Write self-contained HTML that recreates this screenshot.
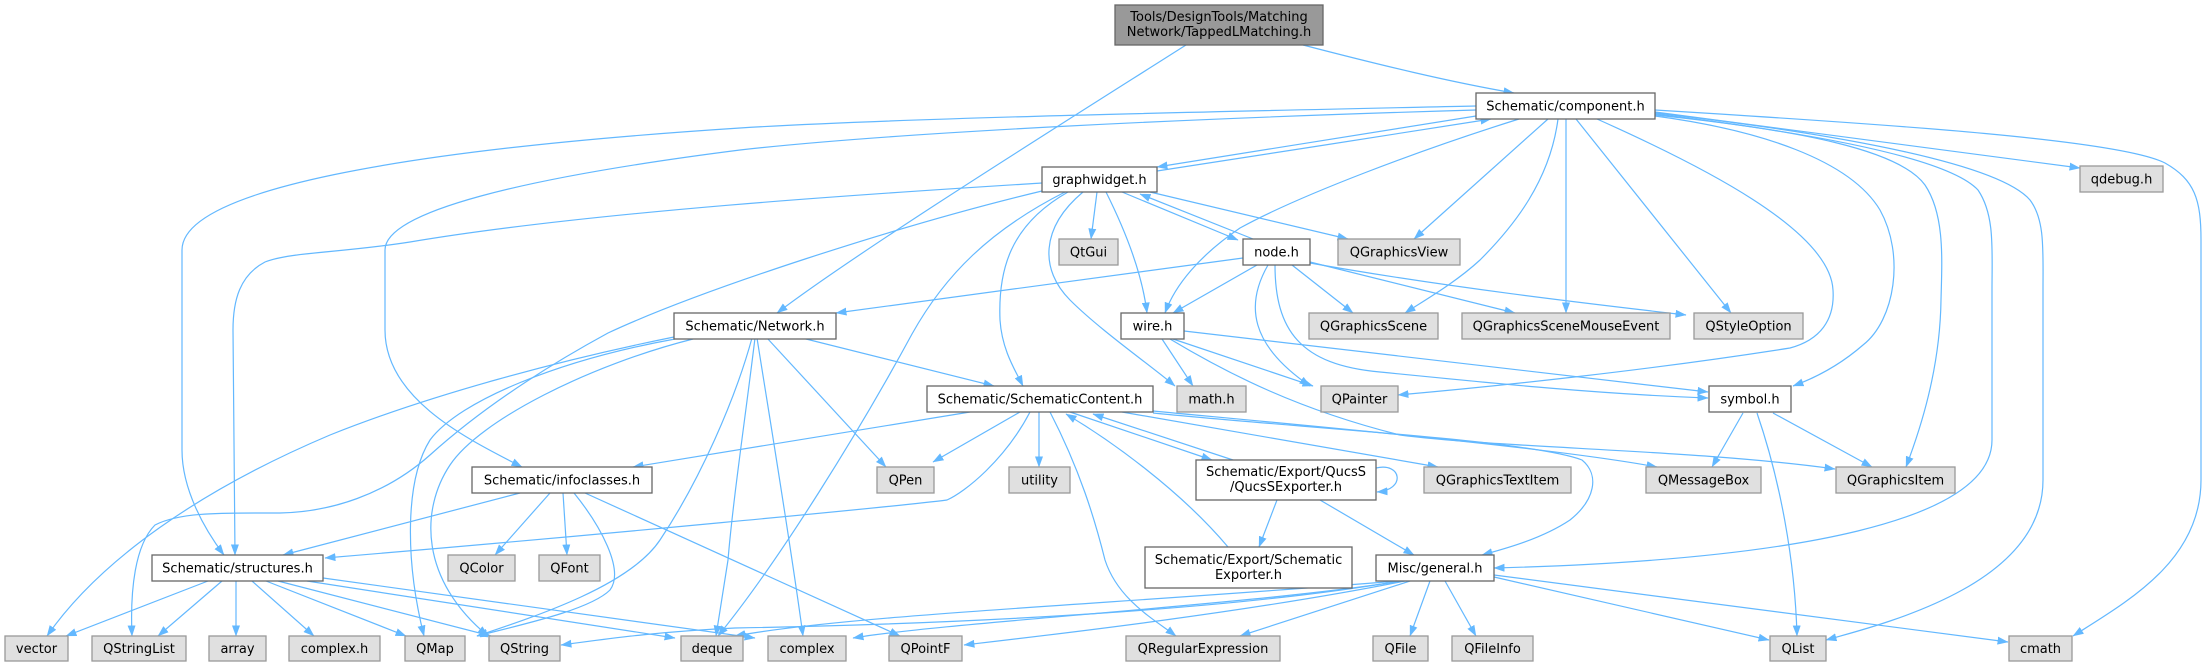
<!DOCTYPE html>
<html>
<head>
<meta charset="utf-8">
<style>
html,body{margin:0;padding:0;background:#fff;}
svg{display:block;}
text{font-family:"DejaVu Sans","Liberation Sans",sans-serif;font-size:13px;fill:#000;text-anchor:middle;}
.e{fill:none;stroke:#63b8ff;stroke-width:1.2;marker-end:url(#a);}
.w{fill:#fff;stroke:#666;stroke-width:1.3;}
.g{fill:#e0e0e0;stroke:#999;stroke-width:1.3;}
.t{fill:#999;stroke:#666;stroke-width:1.3;}
</style>
</head>
<body>
<svg width="2207" height="667" viewBox="0 0 2207 667" xmlns="http://www.w3.org/2000/svg">
<defs>
<marker id="a" markerWidth="11" markerHeight="8" refX="10.5" refY="4" orient="auto" markerUnits="userSpaceOnUse">
<path d="M0,0 L11,4 L0,8 z" fill="#63b8ff"/>
</marker>
</defs>
<g>
<!-- Tools -->
<path class="e" d="M1303,45 C1380,65 1450,82 1514,93"/>
<path class="e" d="M1186,45 C1060,125 860,250 777,313"/>
<!-- component -->
<path class="e" d="M1476,106 C1200,112 900,118 740,128 C400,150 182,190 182,250 L182,450 C182,490 205,530 224,555"/>
<path class="e" d="M1476,110 C1200,118 900,132 740,150 C520,178 385,212 385,250 L385,330 C385,400 470,440 522,467"/>
<path class="e" d="M1042,183 C900,192 600,210 410,242 C340,253 290,252 265,262 C240,275 233,300 233,330 L235,555"/>
<path class="e" d="M1476,116 C1350,137 1230,156 1157,167"/>
<path class="e" d="M1157,171 C1250,157 1400,133 1491,119"/>
<path class="e" d="M1548,119 L1414,239"/>
<path class="e" d="M1558,119 C1550,180 1515,225 1480,260 C1455,283 1425,300 1405,313"/>
<path class="e" d="M1519,119 C1420,150 1300,195 1240,228 C1200,255 1175,285 1165,313"/>
<path class="e" d="M1566,119 L1566,313"/>
<path class="e" d="M1576,119 L1731,313"/>
<path class="e" d="M1597,119 C1700,165 1830,230 1833,290 C1835,320 1820,340 1790,348 C1650,370 1500,386 1398,395"/>
<path class="e" d="M1655,116 C1760,130 1850,160 1880,210 C1905,255 1895,320 1863,345 C1840,365 1815,378 1793,386"/>
<path class="e" d="M1655,115 C1800,130 1900,150 1925,185 C1945,215 1942,260 1941,300 C1940,370 1920,430 1906,467"/>
<path class="e" d="M1655,114 C1830,135 1950,160 1978,190 C1995,215 1992,250 1992,290 L1992,440 C1992,520 1800,560 1494,568"/>
<path class="e" d="M1655,113 C1850,135 2000,165 2030,200 C2045,220 2043,250 2043,290 L2043,480 C2043,580 1900,620 1826,640"/>
<path class="e" d="M1655,112 L2080,168"/>
<path class="e" d="M1655,110 C1900,125 2120,140 2165,163 C2195,180 2201,200 2201,240 L2201,480 C2201,560 2130,600 2073,636"/>
<!-- graphwidget -->
<path class="e" d="M1097,192 L1091,239"/>
<path class="e" d="M1106,192 C1130,240 1143,280 1147,313"/>
<path class="e" d="M1083,192 C1040,228 1040,270 1070,300 C1100,330 1150,365 1175,386"/>
<path class="e" d="M1068,192 C1010,225 998,270 1000,320 C1002,350 1015,370 1023,386"/>
<path class="e" d="M1122,192 L1238,240"/>
<path class="e" d="M1253,239 L1140,194"/>
<path class="e" d="M1150,192 L1348,239"/>
<path class="e" d="M1065,192 C990,230 945,275 912,334 C860,430 780,560 718,636"/>
<path class="e" d="M1042,191 C900,225 700,290 608,333 C540,370 480,410 430,455 C385,495 330,512 280,513 C220,513 180,512 155,525 C135,545 130,590 132,636"/>
<!-- Network -->
<path class="e" d="M674,337 C560,360 430,395 330,435 C200,490 100,560 47,636"/>
<path class="e" d="M675,339 C560,360 460,400 430,440 C405,480 405,560 424,636"/>
<path class="e" d="M693,339 C590,365 480,420 450,465 C420,510 420,580 488,636"/>
<path class="e" d="M752,338 C735,400 700,480 660,540 C630,585 540,615 477,636"/>
<path class="e" d="M755,338 C745,420 733,500 728,560 L716,636"/>
<path class="e" d="M757,338 C770,420 790,540 803,636"/>
<path class="e" d="M767,338 L886,467"/>
<path class="e" d="M802,338 L994,386"/>
<!-- node -->
<path class="e" d="M1243,258 L836,313"/>
<path class="e" d="M1257,265 L1173,313"/>
<path class="e" d="M1268,265 C1245,305 1250,345 1310,386"/>
<path class="e" d="M1275,265 C1275,330 1300,365 1380,372 C1500,384 1600,394 1708,398"/>
<path class="e" d="M1292,265 L1353,313"/>
<path class="e" d="M1310,262 L1515,313"/>
<path class="e" d="M1310,263 C1450,288 1600,305 1686,315"/>
<!-- wire -->
<path class="e" d="M1162,339 L1193,386"/>
<path class="e" d="M1173,339 L1313,386"/>
<path class="e" d="M1184,331 C1300,343 1500,368 1708,392"/>
<path class="e" d="M1170,339 C1230,375 1300,410 1400,435 C1500,448 1700,450 1835,469"/>
<!-- SchematicContent -->
<path class="e" d="M970,412 L633,467"/>
<path class="e" d="M1020,412 L933,462"/>
<path class="e" d="M1030,412 C1005,460 965,492 947,500 C900,506 600,535 325,558"/>
<path class="e" d="M1039,412 L1039,467"/>
<path class="e" d="M1050,412 C1080,470 1095,520 1105,560 C1118,600 1155,620 1176,636"/>
<path class="e" d="M1070,412 L1212,460"/>
<path class="e" d="M1233,460 L1093,414"/>
<path class="e" d="M1228,547 C1180,490 1110,440 1066,414"/>
<path class="e" d="M1122,412 L1438,467"/>
<path class="e" d="M1153,411 C1300,425 1550,447 1657,467"/>
<path class="e" d="M1153,413 C1300,428 1530,440 1582,460 C1600,475 1595,500 1570,520 C1540,540 1500,550 1482,555"/>
<!-- symbol -->
<path class="e" d="M1743,413 L1712,467"/>
<path class="e" d="M1757,413 C1780,480 1795,560 1797,636"/>
<path class="e" d="M1773,413 L1872,467"/>
<!-- infoclasses -->
<path class="e" d="M520,493 L283,555"/>
<path class="e" d="M550,493 L495,555"/>
<path class="e" d="M563,493 L567,555"/>
<path class="e" d="M574,493 C600,525 625,570 610,590 C590,610 520,625 477,636"/>
<path class="e" d="M585,493 L900,636"/>
<!-- QucsS -->
<path class="e" d="M1376,468 C1402,462 1406,490 1377,492"/>
<path class="e" d="M1277,500 L1259,547"/>
<path class="e" d="M1320,500 L1414,555"/>
<!-- general -->
<path class="e" d="M1400,581 C1200,615 900,625 735,628 C650,632 600,640 561,645"/>
<path class="e" d="M1402,581 C1250,605 950,622 853,638"/>
<path class="e" d="M1405,581 C1250,612 1050,635 964,645"/>
<path class="e" d="M1410,581 L1240,636"/>
<path class="e" d="M1430,581 L1410,636"/>
<path class="e" d="M1445,581 L1476,636"/>
<path class="e" d="M1494,577 L1769,640"/>
<path class="e" d="M1494,575 L2008,642"/>
<path class="e" d="M1398,581 C1100,605 850,615 735,636"/>
<!-- structures -->
<path class="e" d="M208,581 L66,636"/>
<path class="e" d="M222,581 L158,636"/>
<path class="e" d="M236,581 L236,636"/>
<path class="e" d="M252,581 L314,636"/>
<path class="e" d="M266,581 L406,636"/>
<path class="e" d="M278,581 L491,636"/>
<path class="e" d="M307,581 L675,638"/>
<path class="e" d="M323,578 L755,638"/>
</g>

<!-- Nodes -->
<rect class="t" x="1115" y="5" width="208" height="40"/>
<text x="1219" y="21">Tools/DesignTools/Matching</text>
<text x="1219" y="36">Network/TappedLMatching.h</text>

<rect class="w" x="1476" y="93" width="179" height="26"/><text x="1565.5" y="110.5">Schematic/component.h</text>
<rect class="w" x="1042" y="167" width="115" height="25"/><text x="1099.5" y="184">graphwidget.h</text>
<rect class="g" x="2080" y="166" width="83" height="26"/><text x="2121.5" y="183.5">qdebug.h</text>
<rect class="g" x="1059" y="239" width="59" height="26"/><text x="1088.5" y="256.5">QtGui</text>
<rect class="w" x="1243" y="239" width="67" height="26"/><text x="1276.5" y="256.5">node.h</text>
<rect class="g" x="1338" y="239" width="122" height="26"/><text x="1399" y="256.5">QGraphicsView</text>
<rect class="w" x="674" y="313" width="162" height="26"/><text x="755" y="330.5">Schematic/Network.h</text>
<rect class="w" x="1121" y="313" width="63" height="26"/><text x="1152.5" y="330.5">wire.h</text>
<rect class="g" x="1309" y="313" width="129" height="26"/><text x="1373.5" y="330.5">QGraphicsScene</text>
<rect class="g" x="1462" y="313" width="208" height="26"/><text x="1566" y="330.5">QGraphicsSceneMouseEvent</text>
<rect class="g" x="1694" y="313" width="109" height="26"/><text x="1748.5" y="330.5">QStyleOption</text>
<rect class="w" x="927" y="386" width="226" height="26"/><text x="1040" y="403.5">Schematic/SchematicContent.h</text>
<rect class="g" x="1177" y="386" width="69" height="26"/><text x="1211.5" y="403.5">math.h</text>
<rect class="g" x="1321" y="386" width="77" height="26"/><text x="1359.5" y="403.5">QPainter</text>
<rect class="w" x="1709" y="386" width="82" height="26"/><text x="1750" y="403.5">symbol.h</text>
<rect class="w" x="472" y="467" width="180" height="26"/><text x="562" y="484.5">Schematic/infoclasses.h</text>
<rect class="g" x="877" y="467" width="57" height="26"/><text x="905.5" y="484.5">QPen</text>
<rect class="g" x="1009" y="467" width="61" height="26"/><text x="1039.5" y="484.5">utility</text>
<rect class="w" x="1196" y="460" width="180" height="40"/>
<text x="1286" y="476">Schematic/Export/QucsS</text>
<text x="1286" y="491">/QucsSExporter.h</text>
<rect class="g" x="1424" y="467" width="147" height="26"/><text x="1497.5" y="484.5">QGraphicsTextItem</text>
<rect class="g" x="1646" y="467" width="115" height="26"/><text x="1703.5" y="484.5">QMessageBox</text>
<rect class="g" x="1836" y="467" width="119" height="26"/><text x="1895.5" y="484.5">QGraphicsItem</text>
<rect class="w" x="152" y="555" width="171" height="26"/><text x="237.5" y="572.5">Schematic/structures.h</text>
<rect class="g" x="448" y="555" width="67" height="26"/><text x="481.5" y="572.5">QColor</text>
<rect class="g" x="539" y="555" width="61" height="26"/><text x="569.5" y="572.5">QFont</text>
<rect class="w" x="1145" y="547" width="207" height="41"/>
<text x="1248.5" y="564">Schematic/Export/Schematic</text>
<text x="1248.5" y="579">Exporter.h</text>
<rect class="w" x="1376" y="555" width="118" height="26"/><text x="1435" y="572.5">Misc/general.h</text>
<rect class="g" x="5" y="636" width="63" height="25"/><text x="36.5" y="653">vector</text>
<rect class="g" x="92" y="636" width="94" height="25"/><text x="139" y="653">QStringList</text>
<rect class="g" x="209" y="636" width="57" height="25"/><text x="237.5" y="653">array</text>
<rect class="g" x="289" y="636" width="91" height="25"/><text x="334.5" y="653">complex.h</text>
<rect class="g" x="405" y="636" width="60" height="25"/><text x="435" y="653">QMap</text>
<rect class="g" x="489" y="636" width="71" height="25"/><text x="524.5" y="653">QString</text>
<rect class="g" x="681" y="636" width="62" height="25"/><text x="712" y="653">deque</text>
<rect class="g" x="768" y="636" width="78" height="25"/><text x="807" y="653">complex</text>
<rect class="g" x="889" y="636" width="73" height="25"/><text x="925.5" y="653">QPointF</text>
<rect class="g" x="1126" y="636" width="154" height="25"/><text x="1203" y="653">QRegularExpression</text>
<rect class="g" x="1373" y="636" width="55" height="25"/><text x="1400.5" y="653">QFile</text>
<rect class="g" x="1452" y="636" width="81" height="25"/><text x="1492.5" y="653">QFileInfo</text>
<rect class="g" x="1770" y="636" width="56" height="25"/><text x="1798" y="653">QList</text>
<rect class="g" x="2009" y="636" width="63" height="25"/><text x="2040.5" y="653">cmath</text>
</svg>
</body>
</html>
